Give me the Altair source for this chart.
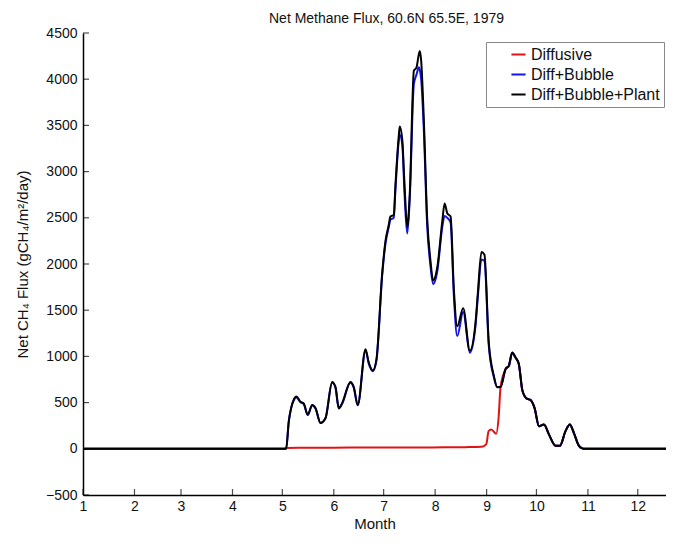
import altair as alt
import pandas as pd

# ---------------- data ----------------
month_start_days = [0, 31, 59, 90, 120, 151, 181, 212, 243, 273, 304, 334]
month_labels = ["1", "2", "3", "4", "5", "6", "7", "8", "9", "10", "11", "12"]
y_ticks = [-500, 0, 500, 1000, 1500, 2000, 2500, 3000, 3500, 4000, 4500]

series_names = ["Diffusive", "Diff+Bubble", "Diff+Bubble+Plant"]
series_colors = ["#e01414", "#1414e6", "#000000"]

# day of year (0 = 1 Jan) for the Diff+Bubble and Diff+Bubble+Plant curves
days_main = [0, 121, 122.3, 123.9, 125.3, 126.9, 128.5, 130.9, 132.9, 135.3, 138, 140,
             143, 146, 150, 152, 154, 156, 161, 163, 165.4, 170.1, 172, 174.5, 176.7,
             180.1, 182.1, 184.1, 185.1, 187.1, 188.1, 190.1, 190.7, 192.2, 193.6,
             195.2, 196.7, 199.2, 200.8, 202.2, 202.8, 203.6, 205.2, 207.2, 209.2,
             210.8, 213.3, 216.3, 217.7, 219.3, 221.3, 223.3, 225.3, 228.9, 232.9,
             236.3, 237.7, 239.9, 241.7, 244.3, 247.3, 249.4, 251.4, 254.4, 256.4,
             258.4, 260.4, 262.4, 264.5, 267, 269.5, 271.9, 274.5, 277.5, 280.5,
             284.5, 287.1, 290.5, 293.1, 295.5, 298.6, 300.6, 302, 351]

flux_plant = [0, 0, 0, 298, 440, 532, 565, 510, 490, 370, 475, 440,
              280, 333, 723, 670, 440, 493, 723, 670, 475, 1078, 936, 848, 971,
              1894, 2248, 2425, 2514, 2532, 2851, 3383, 3489, 3348, 2851,
              2400, 2745, 4092, 4128, 4270, 4305, 4199, 3561, 2497, 2035,
              1822, 1965, 2461, 2656, 2550, 2514, 1720, 1326, 1521, 1060,
              1362, 1681, 2130, 2100, 1149, 795, 670, 670, 865, 900,
              1043, 989, 918, 635, 546, 528, 440, 245, 263, 156,
              32, 32, 191, 263, 173, 32, 5, 0, 0]

flux_bubble = [0, 0, 0, 298, 440, 525, 555, 505, 485, 365, 470, 435,
               278, 330, 715, 662, 436, 488, 715, 662, 470, 1065, 925, 840, 960,
               1870, 2220, 2400, 2480, 2500, 2800, 3330, 3400, 3300, 2750,
               2330, 2700, 3950, 4050, 4130, 4100, 4000, 3450, 2420, 1980,
               1780, 1920, 2400, 2520, 2500, 2450, 1650, 1220, 1480, 1040,
               1330, 1640, 2050, 2030, 1120, 780, 665, 668, 860, 898,
               1040, 987, 916, 633, 545, 527, 439, 245, 263, 156,
               32, 32, 191, 263, 173, 32, 5, 0, 0]

days_diffusive = [0, 121, 122.3, 130, 150, 170, 190, 210, 230, 240, 242.8, 244.2,
                  245.8, 248.8, 250.2, 251.4, 254.4, 256.4, 258.4, 260.4, 262.4,
                  264.5, 267, 269.5, 271.9, 274.5, 277.5, 280.5, 284.5, 287.1,
                  290.5, 293.1, 295.5, 298.6, 300.6, 302, 351]
flux_diffusive = [0, 0, 10, 12, 12, 14, 15, 15, 18, 22, 50, 191,
                  209, 163, 333, 668, 860, 898, 1040, 987, 916,
                  633, 545, 527, 439, 245, 263, 156, 32, 32,
                  191, 263, 173, 32, 5, 0, 0]

# ---------------- tables ----------------
frames = [
    pd.DataFrame({"day": days_diffusive, "flux": flux_diffusive, "series": series_names[0]}),
    pd.DataFrame({"day": days_main, "flux": flux_bubble, "series": series_names[1]}),
    pd.DataFrame({"day": days_main, "flux": flux_plant, "series": series_names[2]}),
]
df = pd.concat(frames, ignore_index=True)
xtick_df = pd.DataFrame({"day": month_start_days})
ytick_df = pd.DataFrame({"flux": y_ticks})

FONT = "Liberation Sans"
label_expr = "{}[indexof({}, datum.value)]".format(
    "[" + ",".join('"%s"' % m for m in month_labels) + "]",
    "[" + ",".join(str(d) for d in month_start_days) + "]",
)

x_enc = alt.X(
    "day:Q",
    scale=alt.Scale(domain=[0, 351], nice=False, zero=False),
    axis=alt.Axis(values=month_start_days, labelExpr=label_expr, title="Month",
                  ticks=False, labelPadding=4, titlePadding=3, labelFlush=False),
)
y_enc = alt.Y(
    "flux:Q",
    scale=alt.Scale(domain=[-500, 4500], nice=False, zero=False),
    axis=alt.Axis(values=y_ticks, format="d", title="Net CH\u2084 Flux (gCH\u2084/m\u00b2/day)",
                  ticks=False, labelPadding=6, titleX=-61, titleY=231,
                  titleAngle=270, titleAlign="center", titleBaseline="middle"),
)
color_enc = alt.Color(
    "series:N",
    scale=alt.Scale(domain=series_names, range=series_colors),
    legend=alt.Legend(title=None, orient="none", legendX=403, legendY=9,
                      symbolType="stroke", symbolStrokeWidth=2, symbolSize=200,
                      symbolOffset=20, labelOffset=4, labelFontSize=16, labelFont=FONT,
                      labelColor="#111", padding=4, rowPadding=3,
                      strokeColor="#888888", fillColor="white"),
)

base = alt.Chart(df)
layers = []
for name in series_names:
    layers.append(
        base.transform_filter(alt.datum.series == name)
        .mark_line(strokeWidth=2, interpolate="monotone", clip=True)
        .encode(x=x_enc, y=y_enc, color=color_enc)
    )

xticks = alt.Chart(xtick_df).mark_tick(orient="vertical", size=6, thickness=1.2, color="black").encode(
    x="day:Q", y=alt.datum(-500), yOffset=alt.value(-3)
)
yticks = alt.Chart(ytick_df).mark_tick(orient="horizontal", size=6, thickness=1.2, color="black").encode(
    y="flux:Q", x=alt.value(3)
)

chart = (
    alt.layer(*layers, xticks, yticks)
    .properties(
        width=583,
        height=462,
        padding={"left": 75, "top": 25, "right": 0, "bottom": 37},
        autosize=alt.AutoSizeParams(type="none"),
        title=alt.TitleParams("Net Methane Flux, 60.6N 65.5E, 1979", fontSize=14, font=FONT,
                              fontWeight="normal", offset=0, dx=12, anchor="middle",
                              color="#111"),
    )
    .configure_view(strokeWidth=0)
    .configure_axis(domainColor="black", domainWidth=1.5, grid=False, labelFont=FONT,
                    labelFontSize=14, labelColor="#111", titleFont=FONT, titleFontSize=15,
                    titleFontWeight="normal", titleColor="#111")
)

chart.save("out.html", embed_options={"renderer": "svg", "actions": False})
